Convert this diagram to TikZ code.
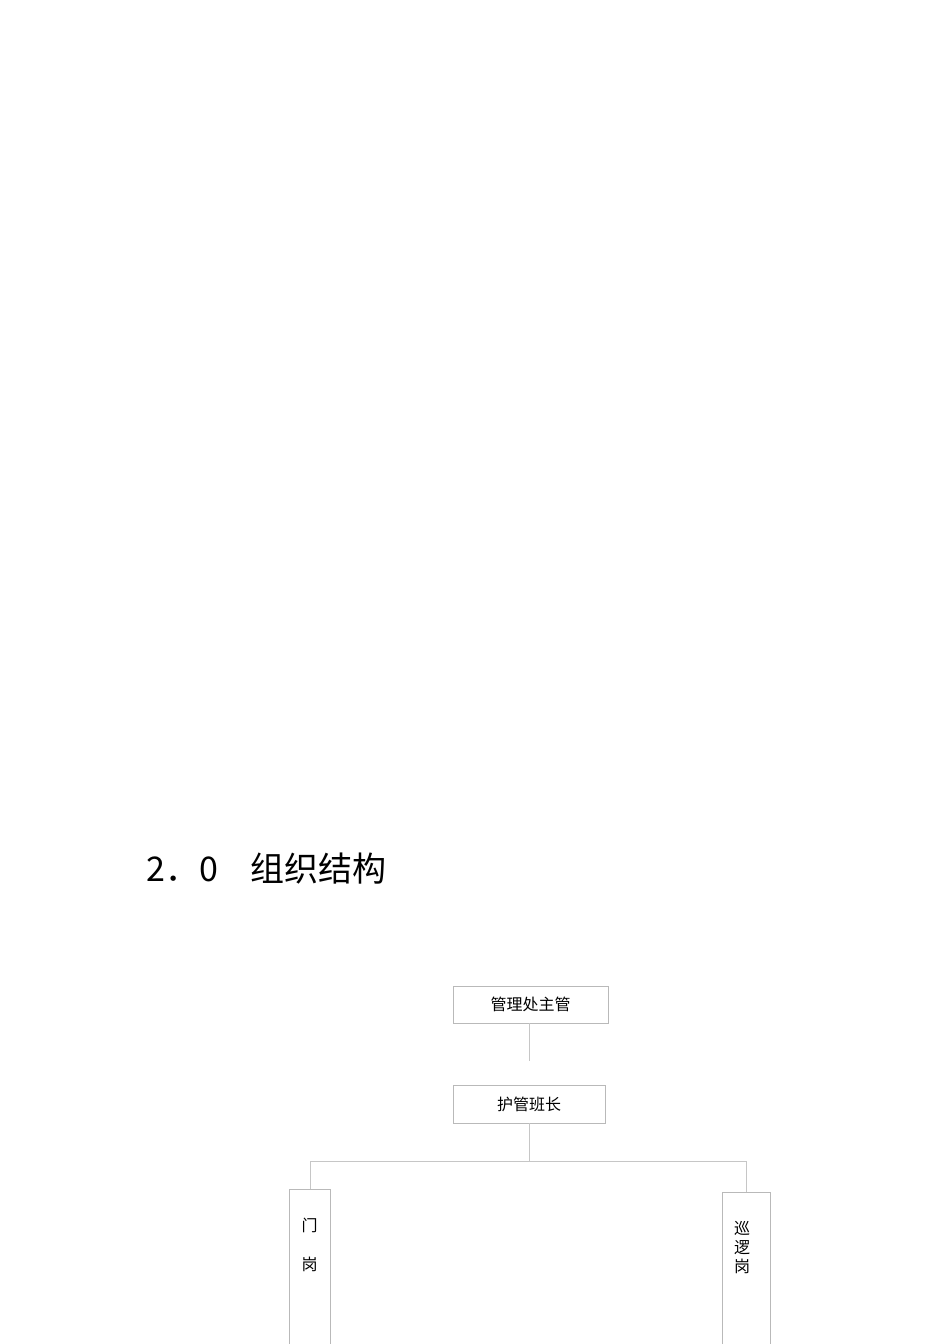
\documentclass[tikz,border=0pt]{standalone}
\usepackage{fontspec}
\setmainfont{Liberation Serif}
\newfontfamily\cjk{Noto Sans CJK SC}
\usetikzlibrary{positioning}
\begin{document}
\begin{tikzpicture}[x=1pt, y=-1pt,
    box/.style = {draw=gray!55, line width=0.9pt, inner sep=0pt,
                  font=\cjk\fontsize{16}{19}\selectfont},
    link/.style = {draw=gray!45, line width=0.9pt},
    heading/.style = {anchor=base west, inner sep=0pt, font=\cjk\fontsize{34}{38}\selectfont}]
        \clip (0,0) rectangle (950,1344);
        % title
        \node [heading] (num) at (146,881) {2．0};
        \node [heading] (title) at (250,881) {组织结构};
        % boxes
        \node [box, minimum width=155pt, minimum height=37pt] (head) at (530.5,1004.5) {管理处主管};
        \node [box, minimum width=152pt, minimum height=38pt] (lead) at (529,1104) {护管班长};
        \node [box, minimum width=41pt, minimum height=211pt] (gate) at (310,1294.5) {};
        \node [box, minimum width=48pt, minimum height=208pt] (patrol) at (746,1296) {};
        \node [align=center, font=\cjk\fontsize{16}{39}\selectfont] (gatetext) at (309.5,1244.5) {门\\岗};
        \node [align=center, font=\cjk\fontsize{16}{19}\selectfont] (patroltext) at (742,1247) {巡\\逻\\岗};
        % links
        \coordinate (headend) at (529,1061);
        \coordinate (fork) at (529,1161);
        \draw [link] (529,1023) -- (headend);
        \draw [link] (lead.south) -- (fork) -| (gate.north);
        \draw [link] (fork) -| (patrol.north);
\end{tikzpicture}
\end{document}
